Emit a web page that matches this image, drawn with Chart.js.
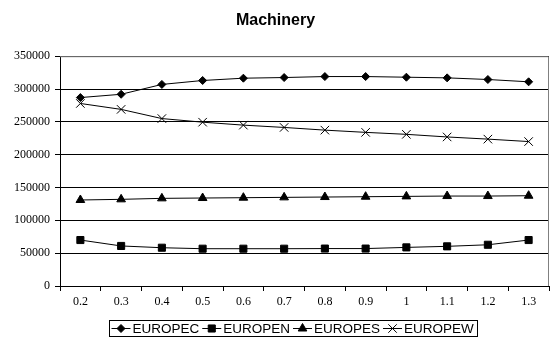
<!DOCTYPE html>
<html>
<head>
<meta charset="utf-8">
<script src="https://cdn.jsdelivr.net/npm/chart.js@4.4.1/dist/chart.umd.min.js"></script>
<style>
  html, body { margin: 0; padding: 0; background: #fff; }
  #wrap { width: 556px; height: 338px; }
</style>
</head>
<body>
<div id="wrap"><canvas id="chart" width="556" height="338"></canvas></div>
<script>
const categories = ["0.2", "0.3", "0.4", "0.5", "0.6", "0.7", "0.8", "0.9", "1", "1.1", "1.2", "1.3"];
const europec = [287000, 292000, 307000, 313000, 316500, 317500, 319000, 319000, 318000, 317000, 314500, 311000];
const europen = [70000, 61000, 58300, 56800, 56800, 56800, 57000, 57000, 58800, 60400, 62800, 70000];
const europes = [131000, 132000, 133500, 134000, 134500, 135000, 135500, 136000, 136500, 137000, 137000, 137500];
const europew = [278000, 269000, 255000, 249500, 245000, 241500, 237400, 234000, 231000, 227000, 223700, 220000];
const seriesNames = ["EUROPEC", "EUROPEN", "EUROPES", "EUROPEW"];
const yMin = 0;
const yMax = 350000;
const yStep = 50000;

function makeSet(label, data, style, radius) {
  return {
    label: label,
    data: data,
    borderColor: "#000",
    backgroundColor: "#000",
    borderWidth: 1,
    pointStyle: style,
    pointRadius: radius,
    pointBorderWidth: 1,
    pointBackgroundColor: "#000",
    pointBorderColor: "#000",
    tension: 0,
  };
}

// grey plot-area frame, like the old spreadsheet chart
const frame = {
  id: "frame",
  beforeDatasetsDraw(chart) {
    const a = chart.chartArea;
    const ctx = chart.ctx;
    ctx.save();
    ctx.strokeStyle = "#808080";
    ctx.lineWidth = 1;
    ctx.beginPath();
    ctx.moveTo(a.left, a.top + 0.5);
    ctx.lineTo(a.right - 0.5, a.top + 0.5);
    ctx.lineTo(a.right - 0.5, a.bottom);
    ctx.stroke();
    ctx.restore();
  },
};

// legend box with line + marker samples
const boxLegend = {
  id: "boxLegend",
  afterDraw(chart) {
    const ctx = chart.ctx;
    ctx.save();
    ctx.font = "13.5px 'Liberation Sans', Arial, sans-serif";
    const lineW = 19;
    const gapText = 2;
    const gapItem = 3;
    const sets = chart.data.datasets;
    let total = 3;
    const widths = sets.map((ds) => ctx.measureText(ds.label).width);
    widths.forEach((w) => (total += lineW + gapText + w + gapItem));
    const boxW = Math.round(total);
    const boxH = 16;
    const x0 = Math.round(293 - boxW / 2) + 0.5;
    const y0 = chart.height - 18 + 0.5;
    ctx.strokeStyle = "#000";
    ctx.lineWidth = 1;
    ctx.strokeRect(x0, y0, boxW, boxH);
    const cy = y0 + boxH / 2;
    let x = x0 + 2;
    sets.forEach((ds, i) => {
      ctx.beginPath();
      ctx.moveTo(x, cy);
      ctx.lineTo(x + lineW, cy);
      ctx.strokeStyle = "#000";
      ctx.stroke();
      Chart.helpers.drawPoint(ctx, {
        pointStyle: ds.pointStyle,
        radius: ds.pointRadius,
        borderWidth: 1,
      }, x + lineW / 2, cy);
      ctx.fillStyle = "#000";
      ctx.textBaseline = "middle";
      ctx.textAlign = "left";
      ctx.fillText(ds.label, x + lineW + gapText, cy + 1);
      x += lineW + gapText + widths[i] + gapItem;
    });
    ctx.restore();
  },
};

const tickFont = { family: "Liberation Serif", size: 12 };

new Chart(document.getElementById("chart").getContext("2d"), {
  type: "line",
  data: {
    labels: categories,
    datasets: [
      makeSet(seriesNames[0], europec, "rectRot", 4),
      makeSet(seriesNames[1], europen, "rect", 5),
      makeSet(seriesNames[2], europes, "triangle", 5),
      makeSet(seriesNames[3], europew, "crossRot", 6),
    ],
  },
  options: {
    responsive: false,
    animation: false,
    events: [],
    layout: { padding: { top: 0, right: 5, bottom: 22, left: 0 } },
    plugins: {
      legend: { display: false },
      tooltip: { enabled: false },
      title: {
        display: true,
        text: "Machinery",
        color: "#000",
        font: { family: "Liberation Sans", size: 16, weight: "bold" },
        padding: { top: 11, bottom: 26 },
      },
    },
    scales: {
      x: {
        type: "category",
        offset: true,
        grid: {
          display: true,
          offset: true,
          drawOnChartArea: false,
          drawTicks: true,
          tickLength: 5,
          color: "#000",
        },
        border: { color: "#000", width: 1 },
        ticks: { color: "#000", font: tickFont, padding: 4, maxRotation: 0, autoSkip: false },
        afterFit(scale) { scale.height = 30; },
      },
      y: {
        min: yMin,
        max: yMax,
        grid: { color: "#000", lineWidth: 1, tickLength: 5, tickColor: "#000" },
        border: { color: "#000", width: 1 },
        ticks: {
          stepSize: yStep,
          color: "#000",
          font: tickFont,
          padding: 5,
          callback: (v) => String(v),
        },
        afterFit(scale) { scale.width = 60; },
      },
    },
  },
  plugins: [frame, boxLegend],
});
</script>
</body>
</html>
